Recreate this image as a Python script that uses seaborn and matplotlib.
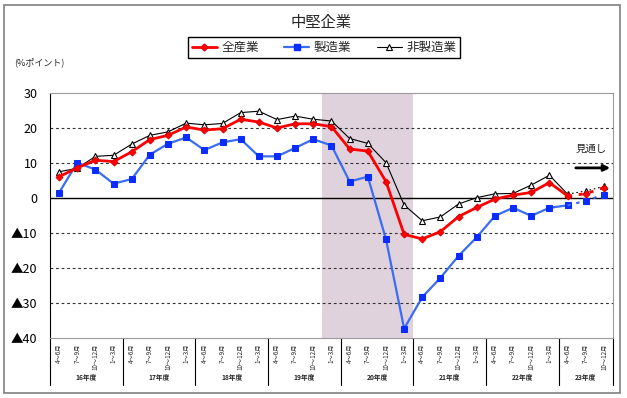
import numpy as np
import matplotlib as mpl
mpl.use("Agg")
import matplotlib.pyplot as plt
import seaborn as sns
from matplotlib.lines import Line2D
from matplotlib.patches import Rectangle
from matplotlib.transforms import blended_transform_factory

# fiscal years and quarters (23年度 runs only to 10-12月)
years = ["16年度", "17年度", "18年度", "19年度", "20年度", "21年度", "22年度", "23年度"]
quarters = ["4～6月", "7～9月", "10～12月", "1～3月"]
quarter_labels = [q for y in years for q in quarters][:31]

# DI values (%ポイント); last two quarters are the outlook (見通し)
all_industry = [6.1, 8.6, 10.8, 10.4, 13.2, 16.7, 17.9, 20.3, 19.4, 19.8, 22.5, 21.7,
                20.0, 21.2, 21.2, 20.4, 14.0, 13.4, 4.7, -10.4, -11.7, -9.6, -5.3, -2.7,
                -0.3, 0.8, 1.6, 4.4, 0.6, 1.2, 3.0]
manufacturing = [1.5, 10.1, 8.1, 4.1, 5.4, 12.4, 15.5, 17.3, 13.7, 15.9, 16.8, 11.9,
                 11.9, 14.3, 16.8, 15.0, 4.7, 6.1, -11.8, -37.3, -28.3, -22.8, -16.5, -11.2,
                 -5.1, -2.8, -5.1, -2.8, -2.1, -0.8, 1.0]
non_manufacturing = [7.5, 8.5, 11.9, 12.2, 15.4, 17.9, 18.9, 21.4, 20.9, 21.3, 24.4, 24.8,
                     22.4, 23.4, 22.5, 22.0, 17.0, 15.6, 10.1, -2.0, -6.5, -5.4, -1.7, 0.1,
                     1.2, 1.3, 3.7, 6.5, 1.1, 2.0, 3.3]
n_actual = 29

sns.set_style("white")
plt.rcParams['font.family'] = ['Noto Sans CJK JP', 'DejaVu Sans']

fig = plt.figure(figsize=(6.27, 3.98), dpi=100)
ax = fig.add_axes([50/627, 1-338/398, 563/627, 245/398])

x = np.arange(len(quarter_labels))

# shaded period
ax.axvspan(14.5, 19.5, color='#e0d2dc', zorder=0, lw=0)

for v in [20, 10, -10, -20, -30]:
    ax.axhline(v, color='#303030', ls=(0, (2.5, 2.5)), lw=0.8, zorder=1)
ax.axhline(0, color='black', lw=1.0, zorder=1)

series = [
    (non_manufacturing, "非製造業", dict(color='black', lw=0.8, marker='^', markersize=5,
                                      markerfacecolor='white', markeredgecolor='black', markeredgewidth=0.8)),
    (manufacturing, "製造業", dict(color='#3a6cf4', lw=1.6, marker='s', markersize=4.5,
                                  markerfacecolor='#0a2cff', markeredgecolor='#0a2cff')),
    (all_industry, "全産業", dict(color='#ff0000', lw=2.0, marker='D', markersize=3.5,
                                 markerfacecolor='#ff0000', markeredgecolor='#e00000')),
]

handles = []
for vals, name, style in series:
    vals = np.asarray(vals)
    sns.lineplot(x=x[:n_actual], y=vals[:n_actual], ax=ax, zorder=3, **style)
    sns.lineplot(x=x[n_actual-1:], y=vals[n_actual-1:], ax=ax, zorder=3,
                 linestyle=(0, (1.5, 2.5)), markevery=[1, 2], **style)
    handles.append(Line2D([], [], label=name, **style))

handles = handles[::-1]
fig.legend(handles=handles, loc='center', bbox_to_anchor=(324/627, 1-47.5/398), ncol=3,
           frameon=True, fancybox=False, edgecolor='black', fontsize=9,
           handlelength=2.0, columnspacing=2.0, handletextpad=0.4,
           borderpad=0.3, framealpha=1)

fig.text(321/627, 1-23/398, "中堅企業", ha='center', va='center', fontsize=11)
fig.text(14/627, 1-62/398, "(%ポイント)", ha='left', va='center', fontsize=6.5)

# y axis
ax.set_ylim(-40, 30)
yt = list(range(-40, 31, 10))
ax.set_yticks(yt)
ax.set_yticklabels([f"▲{-v}" if v < 0 else str(v) for v in yt], fontsize=9)
ax.tick_params(axis='y', length=3, direction='out', pad=6, colors='black')

# x axis
ax.set_xlim(-0.5, len(quarter_labels) - 0.5)
ax.set_xticks(x)
ax.set_xticklabels(quarter_labels, rotation=90, fontsize=4.5, va='top')
ax.tick_params(axis='x', which='major', length=0, pad=4)
ax.set_xticks(np.arange(-0.5, len(quarter_labels), 1), minor=True)
ax.tick_params(axis='x', which='minor', length=20, width=0.8, color='black', direction='out')
ax.set_xlabel("")
ax.set_ylabel("")

trans = blended_transform_factory(ax.transData, ax.transAxes)
for i, yr in enumerate(years):
    start = i * 4 - 0.5
    end = min(start + 4, len(quarter_labels) - 0.5)
    ax.plot([start, start], [0, -0.19], transform=trans, clip_on=False, color='black', lw=0.8)
    ax.text((start + end) / 2, -0.163, yr, transform=trans, ha='center', va='center',
            fontsize=4.8, fontweight='bold')
ax.plot([len(quarter_labels) - 0.5] * 2, [0, -0.19], transform=trans, clip_on=False,
        color='black', lw=0.8)

for side in ['top', 'right', 'bottom']:
    ax.spines[side].set_color('#9a9a9a')
ax.spines['left'].set_color('black')

# outlook annotation
ax.text(29.3, 14.0, "見通し", ha='center', va='center', fontsize=7.5)
ax.annotate("", xy=(30.5, 8.6), xytext=(28.3, 8.6),
            arrowprops=dict(arrowstyle='-|>', color='black', lw=2.0, mutation_scale=9))

fig.patches.append(Rectangle((4/627, 5/398), 616/627, 388/398, transform=fig.transFigure,
                             fill=False, edgecolor='#808080', lw=1.2))

fig.savefig("out.png", dpi=100)
